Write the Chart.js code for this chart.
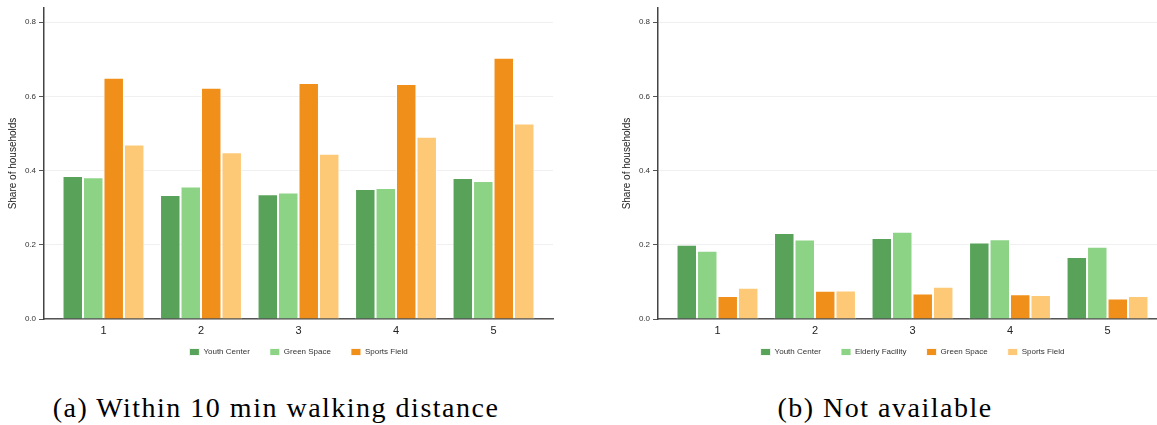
<!DOCTYPE html>
<html>
<head>
<meta charset="utf-8">
<script src="https://cdn.jsdelivr.net/npm/chart.js@4.4.0/dist/chart.umd.min.js"></script>
<style>
	body { margin: 0; background: #fff; width: 1157px; height: 425px; overflow: hidden; position: relative; }
	#myChart1 { position: absolute; left: 0; top: 0; }
	#myChart2 { position: absolute; left: 614px; top: 0; }
	.caption {
		position: absolute; top: 392px; transform: translateX(-50%); white-space: nowrap;
		font-family: "Liberation Serif", serif; font-size: 28px; letter-spacing: 1.5px; color: #000;
	}
</style>
</head>
<body>
<canvas id="myChart1" width="560" height="380"></canvas>
<canvas id="myChart2" width="560" height="380"></canvas>
<div class="caption" style="left:276px">(a) Within 10 min walking distance</div>
<div class="caption" style="left:885px">(b) Not available</div>

<script>
// -- DATA ---------------//
const Groups = [1, 2, 3, 4, 5];
const YTicks = [0, 0.2, 0.4, 0.6, 0.8];

// (a) within 10 min walking distance
const Walk_youth = [0.385, 0.334, 0.336, 0.350, 0.380];
const Walk_green = [0.382, 0.357, 0.341, 0.353, 0.372];
const Walk_sports = [0.650, 0.623, 0.636, 0.633, 0.704];
const Walk_extra = [0.470, 0.449, 0.445, 0.491, 0.527];

// (b) not available
const Na_youth = [0.200, 0.232, 0.218, 0.206, 0.167];
const Na_elderly = [0.184, 0.214, 0.235, 0.215, 0.195];
const Na_green = [0.062, 0.076, 0.069, 0.067, 0.055];
const Na_sports = [0.084, 0.077, 0.087, 0.065, 0.062];

const C_dark_green = '#58a359';
const C_light_green = '#8dd386';
const C_orange = '#f0901b';
const C_light_orange = '#fdc977';

function points(values) {
	return values.map((v, i) => ({ x: Groups[i], y: v }));
}

function barSet(label, values, color) {
	return {
		label: label,
		data: points(values),
		backgroundColor: color,
		borderColor: 'rgba(255, 255, 255, 0.85)',
		borderWidth: 1,
		categoryPercentage: 0.84,
		barPercentage: 1.0,
	};
}

// pull the legend row a bit closer to the axis labels
const legendNudge = {
	id: 'legendNudge',
	afterLayout(chart) {
		chart.legend.top -= 10;
		chart.legend.bottom -= 10;
	}
};

// shared axis / legend setup for both panels
function panelOptions() {
	return {
		animation: false,
		maintainAspectRatio: false,
		responsive: false,
		layout: {
			padding: { top: 8, right: 7, left: 0, bottom: 4 }
		},
		plugins: {
			legend: {
				position: 'bottom',
				fullSize: false,
				labels: {
					boxWidth: 10,
					boxHeight: 7,
					padding: 20,
					color: '#333',
					font: { family: 'Liberation Sans', size: 8 },
					filter: item => item.text !== '', // unlabeled series stays out of the legend
				}
			},
			tooltip: { enabled: false },
		},
		scales: {
			x: {
				type: 'linear',
				offset: false,
				min: 0.39,
				max: 5.61,
				afterBuildTicks: axis => { axis.ticks = Groups.map(v => ({ value: v })); },
				afterFit: axis => { axis.height = 19; },
				grid: { display: false, drawTicks: false },
				border: { display: true, color: '#555', width: 1.5 },
				ticks: {
					padding: 5,
					color: '#222',
					font: { family: 'Liberation Sans', size: 11 },
				},
			},
			y: {
				min: 0,
				max: 0.838,
				afterBuildTicks: axis => { axis.ticks = YTicks.map(v => ({ value: v })); },
				afterFit: axis => { axis.width = 44; },
				grid: {
					color: '#f0f0f0',
					tickColor: '#555',
					tickLength: 5,
				},
				border: { display: true, color: '#444', width: 1.5 },
				ticks: {
					padding: 3,
					color: '#333',
					font: { family: 'Liberation Sans', size: 8 },
					callback: v => v.toFixed(1),
				},
				title: {
					display: true,
					text: 'Share of households',
					color: '#222',
					padding: { top: 7 },
					font: { family: 'Liberation Sans', size: 10 },
				},
			},
		},
	};
}

// -- INITIALIZATION OF CHARTS ---------------//
const ctx1 = document.getElementById('myChart1').getContext('2d');
const ctx2 = document.getElementById('myChart2').getContext('2d');

const myChart1 = new Chart(ctx1, {
	type: 'bar',
	data: {
		datasets: [
			barSet('Youth Center', Walk_youth, C_dark_green),
			barSet('Green Space', Walk_green, C_light_green),
			barSet('Sports Field', Walk_sports, C_orange),
			barSet('', Walk_extra, C_light_orange),
		],
	},
	options: panelOptions(),
	plugins: [legendNudge],
});

const myChart2 = new Chart(ctx2, {
	type: 'bar',
	data: {
		datasets: [
			barSet('Youth Center', Na_youth, C_dark_green),
			barSet('Elderly Facility', Na_elderly, C_light_green),
			barSet('Green Space', Na_green, C_orange),
			barSet('Sports Field', Na_sports, C_light_orange),
		],
	},
	options: panelOptions(),
	plugins: [legendNudge],
});
</script>
</body>
</html>
